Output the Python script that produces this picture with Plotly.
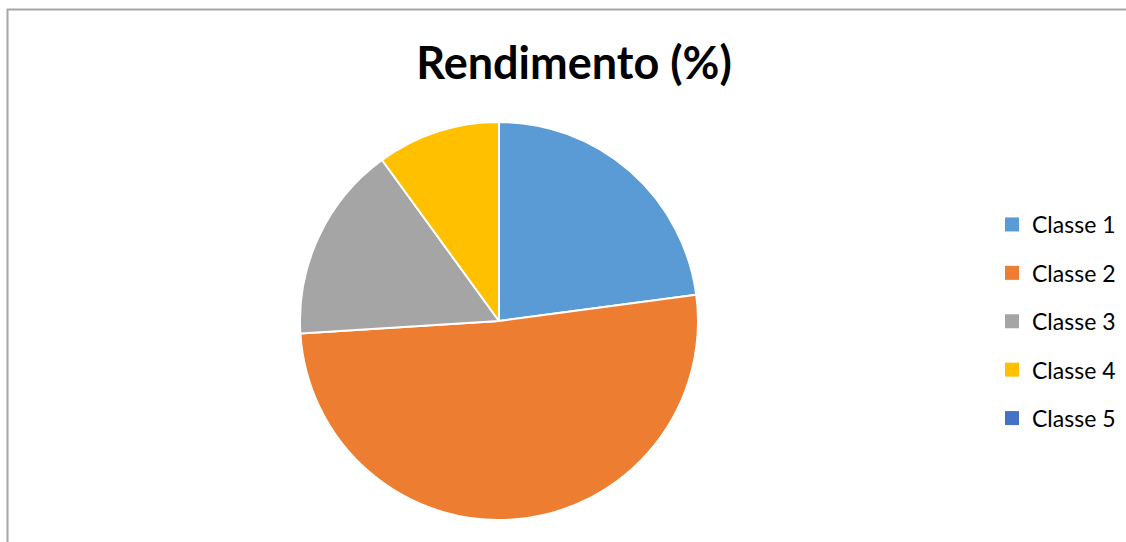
import plotly.graph_objects as go

labels = ["Classe 1", "Classe 2", "Classe 3", "Classe 4", "Classe 5"]
values = [22.9, 51.1, 16.0, 10.0, 0.0]
colors = ["#5B9BD5", "#ED7D31", "#A5A5A5", "#FFC000", "#4472C4"]
title_text = "Rendimento (%)"

W, H = 1126, 542

fig = go.Figure()
fig.add_trace(go.Pie(
    labels=labels, values=values, sort=False, direction="clockwise", rotation=0,
    marker=dict(colors=colors, line=dict(color="white", width=2)),
    textinfo="none", showlegend=False,
    domain=dict(x=[300 / W, 698 / W], y=[22 / H, 420 / H]),
))
# legend entries (one group per class so they can be spaced like the original)
for lab, col in zip(labels, colors):
    fig.add_trace(go.Scatter(
        x=[None], y=[None], mode="markers", name=lab, legendgroup=lab,
        marker=dict(symbol="square", size=14, color=col),
    ))

fig.update_layout(
    width=W, height=H,
    margin=dict(l=0, r=0, t=0, b=0),
    paper_bgcolor="white", plot_bgcolor="white",
    xaxis=dict(visible=False), yaxis=dict(visible=False),
    title=dict(text="<b>" + title_text + "</b>", x=574 / W, xanchor="center",
               y=(H - 63) / H, yanchor="middle", yref="container",
               font=dict(family="Lato", size=45, color="black")),
    legend=dict(x=992 / W, y=(H - 203) / H, xanchor="left", yanchor="top",
                font=dict(family="Lato", size=23, color="black"),
                tracegroupgap=15.5, bgcolor="rgba(0,0,0,0)"),
    shapes=[dict(type="rect", xref="paper", yref="paper",
                 x0=7.5 / W, x1=1.05, y0=-0.05, y1=(H - 9.5) / H,
                 line=dict(color="#A6A6A6", width=2), fillcolor="rgba(0,0,0,0)",
                 layer="below")],
)

fig.write_html("out.html")
